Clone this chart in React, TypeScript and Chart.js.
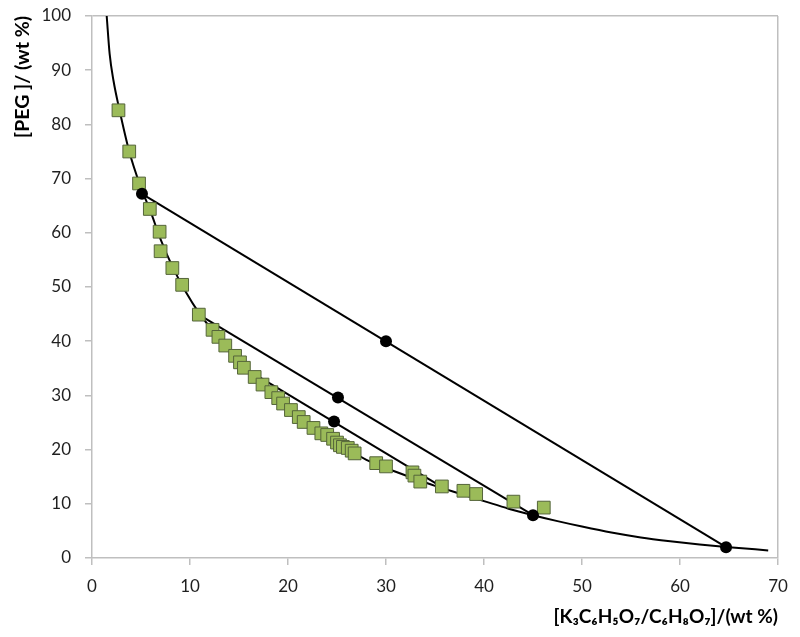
import React, { useEffect, useRef } from "react";
import { Chart, registerables } from "chart.js";

Chart.register(...registerables);

// Binodal experimental points (green squares)
const binodalX = [2.7, 3.8, 4.8, 5.9, 6.9, 7.0, 8.2, 9.2, 10.9, 12.3, 12.9, 13.6, 14.6, 15.1, 15.5, 16.6, 17.4, 18.3, 19.0, 19.5, 20.3, 21.1, 21.6, 22.6, 23.4, 24.0, 24.6, 25.0, 25.3, 25.6, 26.1, 26.5, 26.8, 29.0, 30.0, 32.7, 32.9, 33.5, 35.7, 37.9, 39.2, 43.0, 46.1];
const binodalY = [82.6, 75.0, 69.1, 64.4, 60.2, 56.6, 53.5, 50.4, 44.9, 42.1, 40.8, 39.2, 37.3, 36.1, 35.1, 33.4, 32.0, 30.6, 29.5, 28.5, 27.3, 26.0, 25.1, 24.0, 23.0, 22.7, 22.0, 21.3, 20.8, 20.5, 20.3, 19.8, 19.3, 17.5, 16.9, 15.8, 15.2, 14.1, 13.2, 12.4, 11.8, 10.4, 9.3];

// Fitted binodal curve
const curveX = [1.5, 1.8, 2.2, 2.8, 3.8, 4.9, 6.0, 7.0, 8.2, 9.5, 11.0, 12.5, 14.0, 16.0, 18.0, 20.0, 22.0, 24.0, 26.0, 28.0, 30.0, 32.5, 35.0, 37.5, 40.0, 42.5, 45.0, 47.5, 50.0, 53.0, 56.0, 59.0, 62.0, 65.0, 69.0];
const curveY = [100, 93, 88, 82.7, 75, 68.8, 63.8, 58.8, 53.8, 49.3, 45.0, 41.6, 38.4, 34.5, 31.1, 27.9, 25.3, 22.8, 20.3, 18.1, 16.6, 14.9, 13.3, 11.9, 10.5, 9.1, 7.9, 6.8, 5.8, 4.7, 3.8, 3.1, 2.5, 2.0, 1.4];

// Tie lines
const tie1X = [5.1, 64.7];
const tie1Y = [67.2, 2.0];
const tie2X = [10.9, 45.0];
const tie2Y = [44.9, 7.9];
const tie3X = [16.7, 35.6];
const tie3Y = [33.8, 13.2];

// Tie-line points (black circles)
const circleX = [5.1, 30.0, 64.7, 25.1, 45.0, 24.7];
const circleY = [67.2, 40.0, 2.0, 29.6, 7.9, 25.2];

const xTitle = "[K₃C₆H₅O₇/C₆H₈O₇]/(wt %)";
const yTitle = "[PEG ]/ (wt %)";

const pts = (xs: number[], ys: number[]) => xs.map((x, i) => ({ x, y: ys[i] }));

const AXIS = "#bfbfbf";
const FONT = "Lato";

export default function App() {
  const ref = useRef<HTMLCanvasElement | null>(null);
  useEffect(() => {
    if (!ref.current) return;
    const lineDs = (xs: number[], ys: number[], order: number, mono = false) => ({
      data: pts(xs, ys),
      showLine: true,
      borderColor: "#000",
      borderWidth: 2,
      pointRadius: 0,
      pointHoverRadius: 0,
      tension: 0,
      cubicInterpolationMode: mono ? "monotone" : "default",
      order,
    });
    const chart = new Chart(ref.current, {
      type: "scatter",
      data: {
        datasets: [
          {
            data: pts(circleX, circleY),
            pointStyle: "circle",
            pointRadius: 6,
            backgroundColor: "#000",
            borderColor: "#000",
            borderWidth: 0,
            order: 0,
          },
          {
            data: pts(binodalX, binodalY),
            pointStyle: "rect",
            pointRadius: 9,
            backgroundColor: "#9bbb59",
            borderColor: "#55653a",
            borderWidth: 1,
            order: 1,
          },
          lineDs(tie1X, tie1Y, 2),
          lineDs(tie2X, tie2Y, 2),
          lineDs(tie3X, tie3Y, 2),
          lineDs(curveX, curveY, 3, true),
        ] as any,
      },
      options: {
        animation: false,
        responsive: false,
        maintainAspectRatio: false,
        layout: { padding: { left: 0, right: 22, top: 16, bottom: 0 } },
        plugins: { legend: { display: false }, tooltip: { enabled: false } },
        scales: {
          x: {
            type: "linear",
            min: 0,
            max: 70,
            ticks: { stepSize: 10, color: "#1f1f1f", font: { family: FONT, size: 17 }, padding: 11 },
            grid: {
              color: (c: any) => (c.tick && c.tick.value === 70 ? AXIS : "rgba(0,0,0,0)"),
              tickColor: AXIS,
              tickLength: 7,
              lineWidth: 1.5,
            },
            border: { display: true, color: AXIS, width: 1.5 },
            title: {
              display: true,
              text: xTitle,
              align: "end",
              color: "#000",
              font: { family: FONT, size: 19, weight: "bold" },
              padding: { top: 0, bottom: 9 },
            },
            afterFit: (s: any) => {
              s.height = 79;
              s.paddingLeft = 0;
              s.paddingRight = 0;
            },
          },
          y: {
            type: "linear",
            min: 0,
            max: 100,
            ticks: { stepSize: 10, color: "#1f1f1f", font: { family: FONT, size: 17 }, padding: 14 },
            grid: {
              color: (c: any) => (c.tick && c.tick.value === 100 ? AXIS : "rgba(0,0,0,0)"),
              tickColor: AXIS,
              tickLength: 7,
              lineWidth: 1.5,
            },
            border: { display: true, color: AXIS, width: 1.5 },
            title: {
              display: true,
              text: yTitle,
              align: "end",
              color: "#000",
              font: { family: FONT, size: 19.5, weight: "bold" },
              padding: { top: 11, bottom: 0 },
            },
            afterFit: (s: any) => {
              s.width = 92;
              s.paddingTop = 0;
              s.paddingBottom = 0;
            },
          },
        },
      },
    });
    return () => chart.destroy();
  }, []);
  return (
    <div style={{ position: "fixed", left: 0, top: 0, width: 800, height: 637, background: "#fff" }}>
      <canvas ref={ref} width={800} height={637} style={{ width: 800, height: 637, display: "block" }} />
    </div>
  );
}
